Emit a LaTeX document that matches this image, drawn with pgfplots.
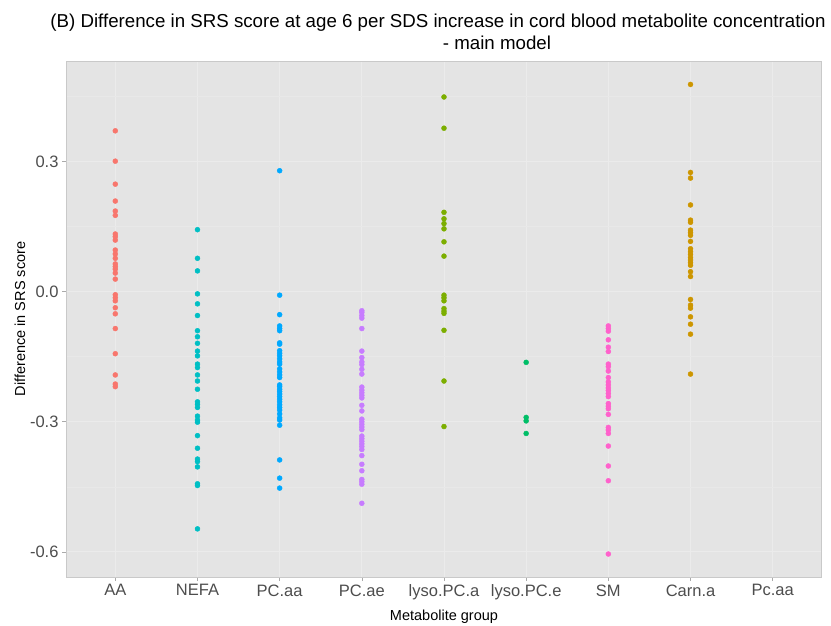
\documentclass[border=0pt]{standalone}
\usepackage{fontspec}
\setmainfont{Liberation Sans}
\usepackage{pgfplots}
\pgfplotsset{compat=1.18}
\definecolor{cAA}{HTML}{F8766D}
\definecolor{cNEFA}{HTML}{00BFC4}
\definecolor{cPCaa}{HTML}{00A9FF}
\definecolor{cPCae}{HTML}{C77CFF}
\definecolor{cLysoA}{HTML}{7CAE00}
\definecolor{cLysoE}{HTML}{00BE67}
\definecolor{cSM}{HTML}{FF61CC}
\definecolor{cCarn}{HTML}{CD9600}
\definecolor{panelbg}{HTML}{E4E4E4}
\definecolor{panelborder}{HTML}{C9C9C9}
\definecolor{gridmaj}{HTML}{EBEBEB}
\definecolor{gridmin}{HTML}{E8E8E8}
\definecolor{labgrey}{HTML}{4D4D4D}
\definecolor{tickgrey}{HTML}{AAAAAA}
\begin{document}
\begin{tikzpicture}[x=1pt,y=1pt]
\useasboundingbox (0,0) rectangle (831,625);
\node[font=\fontsize{18.7}{22}\selectfont, inner sep=0pt, anchor=base] at (438,597) {(B) Difference in SRS score at age 6 per SDS increase in cord blood metabolite concentration};
\node[font=\fontsize{18.7}{22}\selectfont, inner sep=0pt, anchor=base] at (497,575) {- main model};
\begin{axis}[
  at={(66pt,48pt)}, anchor=south west,
  scale only axis, width=756pt, height=516pt,
  xmin=0.4, xmax=9.6, ymin=-0.658, ymax=0.532,
  axis background/.style={fill=panelbg},
  axis line style={draw=panelborder, line width=1pt},
  grid=both,
  major grid style={draw=gridmaj, line width=0.9pt},
  minor grid style={draw=gridmin, line width=0.5pt},
  xtick={1,...,9},
  xticklabels={AA,NEFA,PC.aa,PC.ae,lyso.PC.a,lyso.PC.e,SM,Carn.a,Pc.aa},
  ytick={-0.6,-0.3,0,0.3},
  yticklabels={-0.6,-0.3,0.0,0.3},
  minor ytick={-0.45,-0.15,0.15,0.45},
  tick align=outside,
  major tick length=4pt, minor tick length=0pt,
  tick style={draw=tickgrey, line width=0.6pt},
  xtick pos=bottom, ytick pos=left,
  tick label style={font=\fontsize{16.5}{18}\selectfont, text=labgrey},
  /pgf/number format/assume math mode=true,
  xlabel={Metabolite group},
  ylabel={Difference in SRS score},
  label style={font=\fontsize{14.5}{17}\selectfont},
  xlabel style={at={(axis description cs:0.5,-0.0775)}, anchor=center},
  ylabel style={at={(axis description cs:-0.061,0.5)}, anchor=center},
  every axis plot/.append style={only marks, mark=*, mark size=2.5pt},
]
\addplot[color=cAA] coordinates {
(1,0.371)(1,0.301)(1,0.248)(1,0.209)(1,0.186)(1,0.176)(1,0.133)(1,0.127)(1,0.119)
(1,0.096)(1,0.087)(1,0.077)(1,0.064)(1,0.058)(1,0.052)(1,0.043)(1,0.029)(1,-0.007)
(1,-0.014)(1,-0.021)(1,-0.037)(1,-0.051)(1,-0.085)(1,-0.143)(1,-0.192)(1,-0.213)(1,-0.219)
};
\addplot[color=cNEFA] coordinates {
(2,0.143)(2,0.077)(2,0.048)(2,-0.005)(2,-0.028)(2,-0.055)(2,-0.090)(2,-0.104)(2,-0.119)
(2,-0.137)(2,-0.148)(2,-0.167)(2,-0.175)(2,-0.192)(2,-0.206)(2,-0.225)(2,-0.254)(2,-0.260)
(2,-0.267)(2,-0.287)(2,-0.296)(2,-0.301)(2,-0.332)(2,-0.361)(2,-0.386)(2,-0.392)(2,-0.404)
(2,-0.443)(2,-0.447)(2,-0.547)
};
\addplot[color=cPCaa] coordinates {
(3,0.279)(3,-0.008)(3,-0.053)(3,-0.079)(3,-0.085)(3,-0.090)(3,-0.118)(3,-0.121)(3,-0.136)
(3,-0.142)(3,-0.148)(3,-0.155)(3,-0.162)(3,-0.167)(3,-0.178)(3,-0.185)(3,-0.192)(3,-0.198)
(3,-0.215)(3,-0.219)(3,-0.225)(3,-0.230)(3,-0.236)(3,-0.242)(3,-0.248)(3,-0.254)(3,-0.261)
(3,-0.267)(3,-0.273)(3,-0.282)(3,-0.291)(3,-0.296)(3,-0.308)(3,-0.388)(3,-0.430)(3,-0.453)
};
\addplot[color=cPCae] coordinates {
(4,-0.044)(4,-0.048)(4,-0.055)(4,-0.061)(4,-0.085)(4,-0.137)(4,-0.152)(4,-0.162)(4,-0.168)
(4,-0.179)(4,-0.190)(4,-0.220)(4,-0.227)(4,-0.233)(4,-0.239)(4,-0.245)(4,-0.262)(4,-0.275)
(4,-0.294)(4,-0.300)(4,-0.306)(4,-0.312)(4,-0.318)(4,-0.333)(4,-0.339)(4,-0.345)(4,-0.351)
(4,-0.357)(4,-0.364)(4,-0.378)(4,-0.398)(4,-0.413)(4,-0.433)(4,-0.438)(4,-0.444)(4,-0.488)
};
\addplot[color=cLysoA] coordinates {
(5,0.449)(5,0.377)(5,0.183)(5,0.168)(5,0.157)(5,0.145)(5,0.115)(5,0.082)(5,-0.008)
(5,-0.014)(5,-0.021)(5,-0.039)(5,-0.045)(5,-0.050)(5,-0.089)(5,-0.206)(5,-0.311)
};
\addplot[color=cLysoE] coordinates {
(6,-0.163)(6,-0.290)(6,-0.298)(6,-0.327)
};
\addplot[color=cSM] coordinates {
(7,-0.079)(7,-0.085)(7,-0.091)(7,-0.111)(7,-0.128)(7,-0.138)(7,-0.167)(7,-0.173)(7,-0.183)
(7,-0.198)(7,-0.208)(7,-0.215)(7,-0.222)(7,-0.228)(7,-0.235)(7,-0.242)(7,-0.258)(7,-0.264)
(7,-0.270)(7,-0.283)(7,-0.313)(7,-0.319)(7,-0.327)(7,-0.356)(7,-0.402)(7,-0.436)(7,-0.605)
};
\addplot[color=cCarn] coordinates {
(8,0.478)(8,0.275)(8,0.262)(8,0.200)(8,0.165)(8,0.160)(8,0.142)(8,0.136)(8,0.130)
(8,0.116)(8,0.099)(8,0.092)(8,0.086)(8,0.079)(8,0.073)(8,0.067)(8,0.061)(8,0.046)
(8,0.035)(8,-0.018)(8,-0.031)(8,-0.038)(8,-0.058)(8,-0.075)(8,-0.098)(8,-0.190)
};
\end{axis}
\end{tikzpicture}
\end{document}
